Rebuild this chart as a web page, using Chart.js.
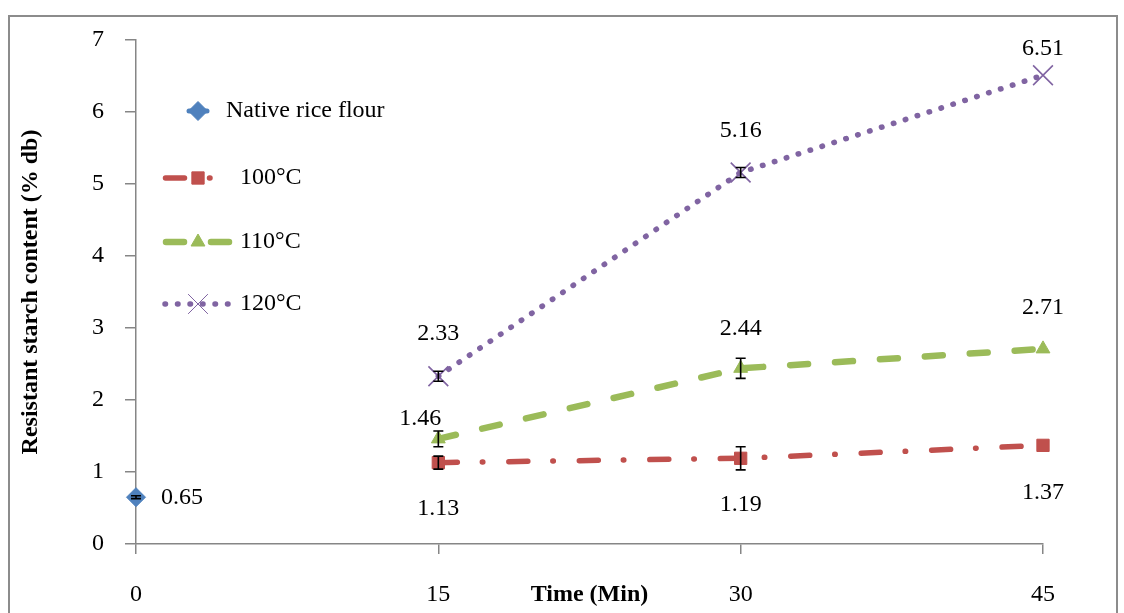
<!DOCTYPE html>
<html>
<head>
<meta charset="utf-8">
<script src="https://cdn.jsdelivr.net/npm/chart.js@4/dist/chart.umd.min.js"></script>
<style>
  html, body { margin: 0; padding: 0; background: #fff; }
  #wrap { width: 1124px; height: 613px; }
</style>
</head>
<body>
<div id="wrap"><canvas id="rs-chart"></canvas></div>
<script>
// heating time (min) and resistant starch (% db)
const times = [15, 30, 45];
const nativeTime = [0];
const nativeRS = [0.65];
const nativeErr = [0.02];
const rs100 = [1.13, 1.19, 1.37];
const err100 = [0.09, 0.16, 0];
const rs110 = [1.46, 2.44, 2.71];
const err110 = [0.11, 0.14, 0];
const rs120 = [2.33, 5.16, 6.51];
const err120 = [0.07, 0.07, 0];
const xTicks = [0, 15, 30, 45];

const FONT = '"Liberation Serif", "Times New Roman", serif';

function pts(xs, ys) {
  return xs.map((x, i) => ({ x: x, y: ys[i] }));
}

let ctxEl = document.getElementById('rs-chart').getContext('2d');

// frame, error bars, value labels and the in-plot legend
const decorations = {
  id: 'decorations',
  beforeDraw(chart) {
    const c = chart.ctx;
    c.save();
    c.fillStyle = '#fff';
    c.fillRect(0, 0, chart.width, chart.height);
    c.strokeStyle = '#8c8c8c';
    c.lineWidth = 2;
    c.strokeRect(9, 16, 1108, 700);
    c.restore();
  },
  afterDatasetsDraw(chart) {
    const c = chart.ctx;
    const xs = chart.scales.x, ys = chart.scales.y;
    c.save();
    c.strokeStyle = '#000';
    c.lineWidth = 1.6;
    chart.data.datasets.forEach(ds => {
      ds.data.forEach((p, i) => {
        const e = ds.errors[i];
        if (!e) return;
        const px = xs.getPixelForValue(p.x);
        const top = ys.getPixelForValue(p.y + e);
        const bot = ys.getPixelForValue(p.y - e);
        c.beginPath();
        c.moveTo(px, top); c.lineTo(px, bot);
        c.moveTo(px - 5, top); c.lineTo(px + 5, top);
        c.moveTo(px - 5, bot); c.lineTo(px + 5, bot);
        c.stroke();
      });
    });
    c.restore();
  },
  afterDraw(chart) {
    const c = chart.ctx;
    const xs = chart.scales.x, ys = chart.scales.y;
    c.save();
    c.font = '24px ' + FONT;
    c.fillStyle = '#000';
    c.textBaseline = 'middle';
    chart.data.datasets.forEach(ds => {
      ds.data.forEach((p, i) => {
        const [dx, dy] = ds.labelShift[i];
        c.textAlign = ds.labelAlign || 'center';
        c.fillText(p.y.toFixed(2), xs.getPixelForValue(p.x) + dx, ys.getPixelForValue(p.y) + dy);
      });
    });

    // legend
    const rows = [111, 178, 242, 304];
    chart.data.datasets.forEach((ds, i) => {
      const y = rows[i];
      const x0 = ds.legendLine[0], x1 = ds.legendLine[1];
      c.save();
      c.strokeStyle = ds.borderColor;
      c.lineWidth = ds.borderWidth || 5;
      c.lineCap = 'round';
      c.setLineDash(ds.borderDash || []);
      c.beginPath();
      c.moveTo(x0, y); c.lineTo(x1, y);
      c.stroke();
      c.restore();
      c.save();
      c.fillStyle = ds.pointBackgroundColor;
      c.strokeStyle = ds.pointBorderColor;
      Chart.helpers.drawPoint(c, {
        pointStyle: ds.pointStyle,
        radius: ds.pointRadius,
        rotation: ds.pointRotation || 0,
        borderWidth: ds.pointBorderWidth
      }, 198, y);
      c.restore();
      c.textAlign = 'left';
      c.fillText(ds.label, ds.legendText, y);
    });
    c.restore();
  }
};

new Chart(ctxEl, {
  type: 'scatter',
  data: {
    datasets: [
      {
        label: 'Native rice flour',
        data: pts(nativeTime, nativeRS),
        errors: nativeErr,
        showLine: false,
        clip: false,
        borderColor: '#4F81BD',
        borderWidth: 5,
        pointStyle: 'rectRot',
        pointRadius: 9.5,
        pointRotation: 0,
        pointBackgroundColor: '#4F81BD',
        pointBorderColor: '#4F81BD',
        pointBorderWidth: 1,
        labelAlign: 'left',
        labelShift: [[25, 1]],
        legendLine: [189, 207],
        legendText: 226
      },
      {
        label: '100°C',
        data: pts(times, rs100),
        errors: err100,
        showLine: true,
        clip: false,
        borderColor: '#C0504D',
        borderWidth: 5.5,
        borderCapStyle: 'round',
        borderDash: [19, 25, 0.5, 26],
        pointStyle: 'rect',
        pointRadius: 8.7,
        pointBackgroundColor: '#C0504D',
        pointBorderColor: '#C0504D',
        pointBorderWidth: 1,
        labelShift: [[0, 46], [0, 46], [0, 47]],
        legendLine: [165.5, 232],
        legendText: 240
      },
      {
        label: '110°C',
        data: pts(times, rs110),
        errors: err110,
        showLine: true,
        clip: false,
        borderColor: '#9BBB59',
        borderWidth: 6.5,
        borderCapStyle: 'round',
        borderDash: [18, 27],
        pointStyle: 'triangle',
        pointRadius: 8,
        pointBackgroundColor: '#9BBB59',
        pointBorderColor: '#9BBB59',
        pointBorderWidth: 1,
        labelShift: [[-18, -20], [0, -40], [0, -41]],
        legendLine: [166, 229],
        legendText: 240
      },
      {
        label: '120°C',
        data: pts(times, rs120),
        errors: err120,
        showLine: true,
        clip: false,
        borderColor: '#8064A2',
        borderWidth: 5.5,
        borderCapStyle: 'round',
        borderDash: [0.5, 12],
        pointStyle: 'crossRot',
        pointRadius: 14,
        pointBackgroundColor: '#8064A2',
        pointBorderColor: '#8064A2',
        pointBorderWidth: 1.6,
        labelShift: [[0, -43], [0, -42], [0, -27]],
        legendLine: [165, 232],
        legendText: 240
      }
    ]
  },
  options: {
    responsive: true,
    maintainAspectRatio: false,
    animation: false,
    layout: { padding: { left: 0, right: 81, top: 40, bottom: 0 } },
    plugins: {
      legend: { display: false },
      tooltip: { enabled: false }
    },
    elements: { line: { tension: 0 } },
    scales: {
      x: {
        type: 'linear',
        min: 0,
        max: 45,
        afterBuildTicks(s) { s.ticks = xTicks.map(v => ({ value: v })); },
        afterFit(s) { s.height = 69; },
        border: { color: '#868686', width: 1.5 },
        grid: { drawOnChartArea: false, color: '#868686', lineWidth: 1.5, tickLength: 10 },
        ticks: { color: '#000', font: { family: FONT, size: 24 }, padding: 26, maxRotation: 0 },
        title: {
          display: true,
          text: 'Time (Min)',
          color: '#000',
          font: { family: FONT, size: 24, weight: 'bold' },
          padding: { top: 0, bottom: 4 }
        }
      },
      y: {
        min: 0,
        max: 7,
        afterFit(s) { s.width = 136; },
        border: { color: '#868686', width: 1.5 },
        grid: { drawOnChartArea: false, color: '#868686', lineWidth: 1.5, tickLength: 11 },
        ticks: { stepSize: 1, color: '#000', font: { family: FONT, size: 24 }, padding: 21 },
        title: {
          display: true,
          text: 'Resistant starch content (% db)',
          color: '#000',
          font: { family: FONT, size: 24, weight: 'bold' },
          padding: { top: 16, bottom: 0 }
        }
      }
    }
  },
  plugins: [decorations]
});
</script>
</body>
</html>
